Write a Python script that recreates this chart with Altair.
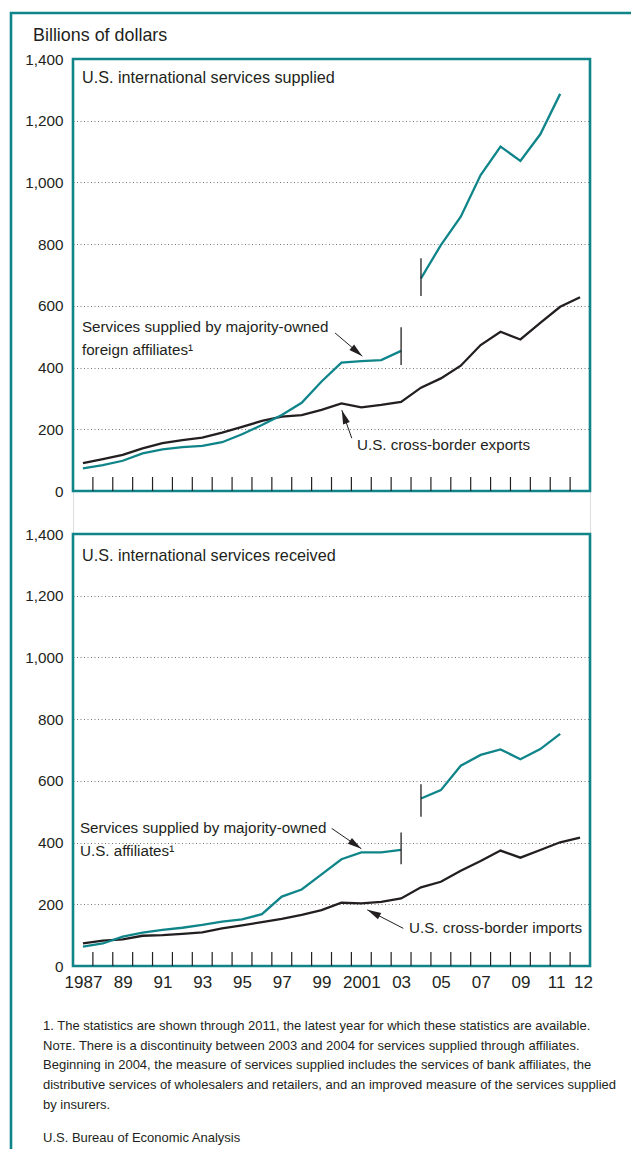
import math
import altair as alt
import pandas as pd

# ---------------- data ----------------
years = list(range(1987, 2013))
exports = [90, 103, 117, 138, 155, 165, 173, 189, 208, 227, 241, 246, 263, 284,
           271, 279, 289, 335, 365, 406, 473, 516, 491, 545, 597, 628]
imports = [73, 82, 86, 98, 100, 104, 109, 122, 132, 142, 153, 166, 181, 205,
           203, 208, 219, 255, 273, 309, 340, 374, 351, 376, 401, 416]

early_years = list(range(1987, 2004))
late_years = list(range(2004, 2012))
aff_supplied_early = [73, 84, 98, 122, 135, 142, 146, 158, 184, 214, 246, 286,
                      355, 416, 421, 424, 454]
aff_supplied_late = [689, 797, 889, 1024, 1116, 1070, 1156, 1287]
aff_received_early = [63, 73, 95, 108, 117, 124, 133, 144, 151, 168, 225, 248,
                      297, 346, 368, 368, 376]
aff_received_late = [543, 570, 649, 684, 702, 670, 703, 752]

break_years = [2003, 2004]
top_break_lo = [408, 632]
top_break_hi = [531, 754]
bot_break_lo = [330, 484]
bot_break_hi = [433, 589]

tick_years = [y + 0.5 for y in range(1987, 2012)]
x_label_years = [1987, 1989, 1991, 1993, 1995, 1997, 1999, 2001, 2003, 2005,
                 2007, 2009, 2011, 2012]
y_ticks = [0, 200, 400, 600, 800, 1000, 1200, 1400]

# ---------------- style ----------------
FONT = "Liberation Sans, Arial, sans-serif"
TEAL = "#0f858a"
INK = "#231f20"
W, H = 517, 907
PH = 432          # each panel's height
P2 = 475          # bottom panel's top offset
XDOM = [1986.5, 2012.5]
YDOM = [0, 1400]

x_axis = alt.Axis(values=x_label_years, title=None, ticks=False, domain=False,
                  grid=False, labelFont=FONT, labelFontSize=17, labelColor=INK,
                  labelPadding=8, labelOverlap=False, labelFlush=False,
                  labelOffset={"condition": [{"test": "datum.value == 2011", "value": -4},
                                             {"test": "datum.value == 2012", "value": 3}],
                               "value": 0},
                  labelExpr="(datum.value == 1987 || datum.value == 2001) ? '' + datum.value"
                            " : substring('' + datum.value, 2)")


def y_axis():
    return alt.Axis(values=y_ticks, labelExpr="format(datum.value, ',')", orient="left",
                    title=None, ticks=False, domain=False, grid=True, gridColor="#777",
                    gridDash=[1, 2.5], gridWidth=1, labelFont=FONT,
                    labelFontSize=15.3, labelColor=INK, labelPadding=10)


def X(f):
    return alt.X(f"{f}:Q", scale=alt.Scale(domain=XDOM, nice=False, zero=False), axis=x_axis)


def YT(f):
    return alt.Y(f"{f}:Q", scale=alt.Scale(domain=YDOM, range=[PH, 0], nice=False), axis=y_axis())


def YB(f):
    return alt.Y(f"{f}:Q", scale=alt.Scale(domain=YDOM, range=[P2 + PH, P2], nice=False), axis=y_axis())


PXY = W / (XDOM[1] - XDOM[0])
PXV = PH / (YDOM[1] - YDOM[0])
ARROW = "M0,0 L-0.45,1.75 L0.45,1.75 Z"


def angle(x0, y0, x1, y1):
    dx = (x1 - x0) * PXY
    dy = -(y1 - y0) * PXV
    return math.degrees(math.atan2(dx, -dy))


def panel(Y, cross, aff_early, aff_late, br_lo, br_hi, title, notes, arrows, top):
    d_cross = pd.DataFrame({"year": years, "v": cross})
    d_aff = pd.DataFrame({"year": early_years + late_years,
                          "v": aff_early + aff_late,
                          "seg": ["a"] * len(early_years) + ["b"] * len(late_years)})
    d_br = pd.DataFrame({"year": break_years, "lo": br_lo, "hi": br_hi})
    d_ticks = pd.DataFrame({"t": tick_years})
    d_title = pd.DataFrame([title], columns=["x", "y", "label"])
    d_notes = pd.DataFrame(notes, columns=["x", "y", "label"])
    d_arr = pd.DataFrame(arrows, columns=["x0", "y0", "x1", "y1"])
    d_arr["ang"] = [angle(*r) for r in arrows]

    base_y = 0 if top else P2
    frame = alt.Chart(pd.DataFrame({"a": [0]})).mark_rect(
        filled=False, stroke=TEAL, strokeWidth=2.6).encode(
        x=alt.value(0), x2=alt.value(W), y=alt.value(base_y), y2=alt.value(base_y + PH))
    ticks = alt.Chart(d_ticks).mark_rule(color=INK, strokeWidth=1.2).encode(
        x=X("t"), y=alt.value(base_y + PH), y2=alt.value(base_y + PH - 14))
    cross_line = alt.Chart(d_cross).mark_line(color=INK, strokeWidth=2.3).encode(
        x=X("year"), y=Y("v"))
    aff_line = alt.Chart(d_aff).mark_line(color=TEAL, strokeWidth=2.3).encode(
        x=X("year"), y=Y("v"), detail="seg:N")
    br = alt.Chart(d_br).mark_rule(color=INK, strokeWidth=1.3).encode(
        x=X("year"), y=Y("lo"), y2=alt.Y2("hi"))
    ttl = alt.Chart(d_title).mark_text(align="left", baseline="middle", font=FONT,
                                       fontSize=16.2, color=INK).encode(
        x=X("x"), y=Y("y"), text="label:N")
    txt = alt.Chart(d_notes).mark_text(align="left", baseline="middle", font=FONT,
                                       fontSize=15.2, color=INK).encode(
        x=X("x"), y=Y("y"), text="label:N")
    arr_line = alt.Chart(d_arr).mark_rule(color=INK, strokeWidth=1).encode(
        x=X("x0"), y=Y("y0"), x2=alt.X2("x1"), y2=alt.Y2("y1"))
    arr_head = alt.Chart(d_arr).mark_point(shape=ARROW, filled=True, color=INK,
                                           opacity=1, size=250, strokeWidth=0).encode(
        x=X("x1"), y=Y("y1"), angle=alt.Angle("ang:Q", scale=None))
    return alt.layer(frame, ticks, cross_line, aff_line, br, ttl, txt, arr_line, arr_head)


top_title = [1986.95, 1338, "U.S. international services supplied"]
top_notes = [
    [1986.95, 531, "Services supplied by majority-owned"],
    [1986.95, 457, "foreign affiliates\u00b9"],
    [2000.78, 149, "U.S. cross-border exports"],
]
top_arrows = [
    [1999.68, 512, 2001.05, 437],
    [2000.52, 171, 2000.02, 262],
]
bot_title = [1986.95, 1329, "U.S. international services received"]
bot_notes = [
    [1986.85, 446, "Services supplied by majority-owned"],
    [1986.85, 373, "U.S. affiliates\u00b9"],
    [2003.40, 124, "U.S. cross-border imports"],
]
bot_arrows = [
    [1999.51, 446, 2001.0, 380],
    [2003.11, 122, 2001.3, 182],
]

top = panel(YT, exports, aff_supplied_early, aff_supplied_late,
            top_break_lo, top_break_hi, top_title, top_notes, top_arrows, True)
bottom = panel(YB, imports, aff_received_early, aff_received_late,
               bot_break_lo, bot_break_hi, bot_title, bot_notes, bot_arrows, False)

one = pd.DataFrame({"a": [0]})
deco = alt.layer(
    alt.Chart(one).mark_rule(color=TEAL, strokeWidth=2.6).encode(
        x=alt.value(-63), x2=alt.value(560), y=alt.value(-46)),
    alt.Chart(one).mark_rule(color=TEAL, strokeWidth=2.6).encode(
        x=alt.value(-62), y=alt.value(-47), y2=alt.value(1095)),
    alt.Chart(one).mark_text(text="Billions of dollars", align="left", baseline="middle",
                             font=FONT, fontSize=17.9, color=INK).encode(
        x=alt.value(-40), y=alt.value(-23)),
    alt.Chart(one).mark_text(
        text=["1.  The statistics are shown through 2011, the latest year for which these statistics are available.",
              "N\u1d0f\u1d1b\u1d07. There is a discontinuity between 2003 and 2004 for services supplied through affiliates.",
              "Beginning in 2004, the measure of services supplied includes the services of bank affiliates, the",
              "distributive services of wholesalers and retailers, and an improved measure of the services supplied",
              "by insurers."],
        align="left", baseline="middle", font=FONT, fontSize=13.0, lineHeight=19.7,
        color=INK).encode(x=alt.value(-30), y=alt.value(967)),
    alt.Chart(one).mark_text(text="U.S. Bureau of Economic Analysis", align="left",
                             baseline="middle", font=FONT, fontSize=13.0, color=INK).encode(
        x=alt.value(-30), y=alt.value(1079)),
)

chart = alt.layer(top, bottom, deco).resolve_scale(y="independent").properties(
    width=W, height=H,
    autosize=alt.AutoSizeParams(type="none"),
    padding={"left": 65, "top": 51, "right": 41, "bottom": 183},
).configure_view(stroke=None).configure(background="white")

chart.save("out.html", embed_options={"renderer": "svg", "actions": False})
